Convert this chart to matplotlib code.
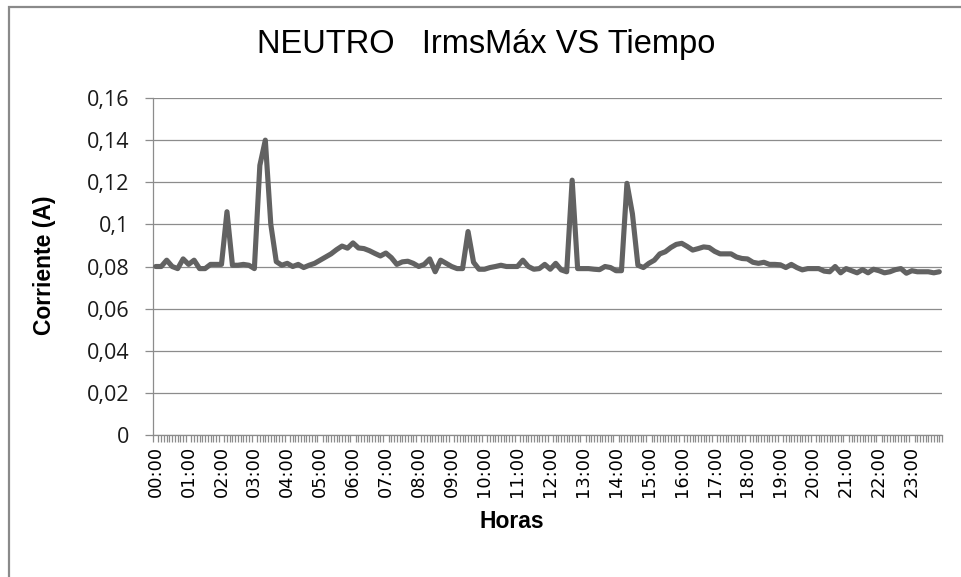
import matplotlib
matplotlib.use("Agg")
import matplotlib.pyplot as plt
from matplotlib.patches import Rectangle
import numpy as np

# Neutral-conductor maximum RMS current, one reading every 10 minutes over a day
corriente = [
    0.0800, 0.0800, 0.0830, 0.0800, 0.0790, 0.0836, 0.0810, 0.0830, 0.0790, 0.0790,
    0.0810, 0.0810, 0.0810, 0.1060, 0.0806, 0.0806, 0.0810, 0.0806, 0.0790, 0.1280,
    0.1400, 0.1000, 0.0823, 0.0806, 0.0815, 0.0800, 0.0810, 0.0795, 0.0806, 0.0815,
    0.0830, 0.0845, 0.0860, 0.0880, 0.0897, 0.0887, 0.0912, 0.0888, 0.0885, 0.0875,
    0.0862, 0.0850, 0.0864, 0.0842, 0.0810, 0.0822, 0.0825, 0.0815, 0.0800, 0.0810,
    0.0836, 0.0775, 0.0830, 0.0815, 0.0800, 0.0790, 0.0790, 0.0966, 0.0820, 0.0787,
    0.0787, 0.0795, 0.0800, 0.0806, 0.0800, 0.0800, 0.0800, 0.0830, 0.0800, 0.0787,
    0.0790, 0.0810, 0.0787, 0.0815, 0.0784, 0.0775, 0.1210, 0.0790, 0.0790, 0.0790,
    0.0787, 0.0785, 0.0800, 0.0795, 0.0780, 0.0780, 0.1195, 0.1050, 0.0806, 0.0795,
    0.0815, 0.0830, 0.0860, 0.0870, 0.0890, 0.0905, 0.0910, 0.0895, 0.0878, 0.0885,
    0.0893, 0.0890, 0.0872, 0.0860, 0.0860, 0.0860, 0.0845, 0.0838, 0.0836, 0.0820,
    0.0815, 0.0820, 0.0810, 0.0810, 0.0808, 0.0795, 0.0810, 0.0795, 0.0784, 0.0790,
    0.0790, 0.0790, 0.0778, 0.0775, 0.0800, 0.0770, 0.0790, 0.0780, 0.0770, 0.0785,
    0.0770, 0.0787, 0.0780, 0.0770, 0.0775, 0.0785, 0.0790, 0.0768, 0.0780, 0.0775,
    0.0775, 0.0775, 0.0770, 0.0775,
]
horas = ["%02d:00" % h for h in range(24)]
y_ticks = [0, 0.02, 0.04, 0.06, 0.08, 0.10, 0.12, 0.14, 0.16]
y_tick_labels = ["0", "0,02", "0,04", "0,06", "0,08", "0,1", "0,12", "0,14", "0,16"]
titulo = "NEUTRO   IrmsMáx VS Tiempo"
etiqueta_x = "Horas"
etiqueta_y = "Corriente (A)"

W, H = 961, 577
fig = plt.figure(figsize=(W / 100, H / 100), dpi=100)
fig.patch.set_facecolor("white")

# chart-area frame (only its top and left edges fall inside the image)
fig.patches.append(Rectangle((8.5 / W, -0.2), 1.5, 1.2 - 7.5 / H,
                             transform=fig.transFigure, fill=False,
                             edgecolor="#8a8a8a", linewidth=1.6))

ax = fig.add_axes([153 / W, 1 - 435 / H, (942 - 153) / W, (435 - 98) / H])
n = len(corriente)
x = np.arange(n)
ax.plot(x, corriente, color="#626262", linewidth=3.7, solid_joinstyle="round",
        solid_capstyle="round", zorder=3)

ax.set_xlim(-0.5, n - 0.5)
ax.set_ylim(0, 0.16)

grid_c = "#8c8c8c"
ax.set_yticks(y_ticks)
ax.set_yticklabels(y_tick_labels)
ax.yaxis.grid(True, color=grid_c, linewidth=0.9)
ax.set_axisbelow(True)
ax.tick_params(axis="y", direction="out", length=6, color=grid_c, width=0.9,
               labelsize=15.5, pad=11, labelcolor="#1a1a1a")
for t in ax.get_yticklabels():
    t.set_fontfamily(["Open Sans", "DejaVu Sans"])

# hour labels on every 6th reading, small marks every half reading
ax.set_xticks(x[::6])
ax.set_xticklabels(horas, rotation=90, fontsize=12.8, family="DejaVu Sans")
ax.set_xticks(np.arange(-0.5, n, 0.5), minor=True)
ax.tick_params(axis="x", which="major", length=0, pad=8)
ax.tick_params(axis="x", which="minor", direction="out", length=5,
               color=grid_c, width=0.9)

for side in ("top", "right"):
    ax.spines[side].set_visible(False)
for side in ("left", "bottom"):
    ax.spines[side].set_color(grid_c)
    ax.spines[side].set_linewidth(0.9)

fig.text(486 / W, 1 - 45 / H, titulo, ha="center", va="center",
         fontsize=23.5, family="Liberation Sans")
fig.text(45 / W, 1 - 265 / H, etiqueta_y, ha="center", va="center",
         rotation=90, fontsize=16.5, fontweight="bold", family="Liberation Sans")
fig.text(512 / W, 1 - 521 / H, etiqueta_x, ha="center", va="center",
         fontsize=16.5, fontweight="bold", family="Liberation Sans")

fig.savefig("out.png", dpi=100, facecolor="white")
